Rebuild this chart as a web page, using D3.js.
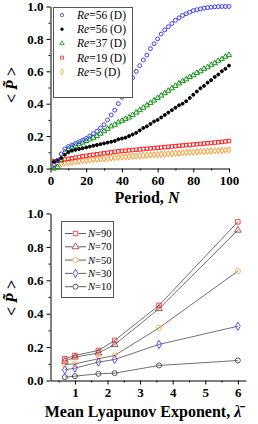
<!DOCTYPE html>
<html>
<head>
<meta charset="utf-8">
<script src="https://cdn.jsdelivr.net/npm/d3@7/dist/d3.min.js"></script>
<style>
  body { margin: 0; background: #fff; }
  svg { display: block; }
  .axis text { font-family: "Liberation Serif", serif; font-weight: bold; font-size: 13px; fill: #000; }
  .axis path, .axis line { stroke: #000; }
  .title { font-family: "Liberation Serif", serif; font-weight: bold; font-size: 16px; }
  .legend text { font-family: "Liberation Serif", serif; font-size: 11.5px; }
</style>
</head>
<body>
<svg id="chart" width="258" height="424"></svg>
<script>
// ---- top panel data: <P> vs period N ----
var periodN = [2, 4, 6, 8, 10, 12, 14, 16, 18, 20, 22, 24, 26, 28, 30, 32, 34, 36, 38, 40,
  42, 44, 46, 48, 50, 52, 54, 56, 58, 60, 62, 64, 66, 68, 70, 72, 74, 76, 78, 80,
  82, 84, 86, 88, 90, 92, 94, 96, 98, 100];

var re56D = [0.02, 0.05, 0.09, 0.12, 0.135, 0.145, 0.155, 0.165, 0.175, 0.185,
  0.2, 0.215, 0.23, 0.25, 0.27, 0.3, 0.33, 0.36, 0.4, 0.44,
  0.48, 0.52, 0.56, 0.6, 0.635, 0.67, 0.7, 0.74, 0.77, 0.8,
  0.83, 0.855, 0.875, 0.895, 0.915, 0.93, 0.945, 0.955, 0.965, 0.975,
  0.98, 0.985, 0.99, 0.993, 0.996, 0.998, 0.999, 1.0, 1.0, 1.0];
var re56O = [0.04, 0.05, 0.065, 0.085, 0.1, 0.11, 0.115, 0.12, 0.125, 0.13,
  0.135, 0.14, 0.145, 0.15, 0.155, 0.16, 0.165, 0.17, 0.18, 0.185,
  0.19, 0.2, 0.21, 0.22, 0.235, 0.25, 0.26, 0.275, 0.29, 0.3,
  0.315, 0.33, 0.345, 0.36, 0.375, 0.39, 0.4, 0.415, 0.435, 0.455,
  0.475, 0.495, 0.51, 0.53, 0.545, 0.565, 0.58, 0.6, 0.615, 0.635];
var re37D = [0.0, 0.01, 0.05, 0.1, 0.12, 0.13, 0.14, 0.15, 0.16, 0.17,
  0.18, 0.19, 0.2, 0.215, 0.23, 0.245, 0.26, 0.27, 0.285, 0.295,
  0.305, 0.315, 0.33, 0.345, 0.36, 0.375, 0.39, 0.405, 0.42, 0.435,
  0.45, 0.465, 0.48, 0.495, 0.51, 0.525, 0.54, 0.55, 0.565, 0.575,
  0.59, 0.6, 0.615, 0.625, 0.64, 0.65, 0.665, 0.675, 0.69, 0.7];
var re19D = [0.045, 0.048, 0.052, 0.056, 0.06, 0.063, 0.067, 0.071, 0.075, 0.078,
  0.082, 0.085, 0.088, 0.091, 0.094, 0.097, 0.1, 0.103, 0.106, 0.108,
  0.11, 0.112, 0.114, 0.116, 0.118, 0.12, 0.122, 0.124, 0.126, 0.128,
  0.13, 0.132, 0.134, 0.136, 0.138, 0.14, 0.142, 0.144, 0.146, 0.148,
  0.15, 0.152, 0.154, 0.156, 0.158, 0.16, 0.162, 0.164, 0.167, 0.17];
var re5D = [0.025, 0.028, 0.031, 0.034, 0.037, 0.039, 0.042, 0.045, 0.048, 0.05,
  0.052, 0.055, 0.057, 0.059, 0.061, 0.063, 0.065, 0.067, 0.069, 0.071,
  0.072, 0.074, 0.076, 0.077, 0.079, 0.08, 0.082, 0.083, 0.085, 0.086,
  0.088, 0.089, 0.091, 0.092, 0.094, 0.095, 0.097, 0.098, 0.1, 0.101,
  0.102, 0.104, 0.105, 0.106, 0.108, 0.109, 0.11, 0.112, 0.113, 0.115];

var topSeries = [
  { re: '56', tag: '(D)', values: re56D, color: '#3c3cff', shape: 'circle' },
  { re: '56', tag: '(O)', values: re56O, color: '#000000', shape: 'dot' },
  { re: '37', tag: '(D)', values: re37D, color: '#109010', shape: 'triangle' },
  { re: '19', tag: '(D)', values: re19D, color: '#ff2020', shape: 'square' },
  { re: '5', tag: '(D)', values: re5D, color: '#ff9a30', shape: 'diamond' }
];

// ---- bottom panel data: <P> vs mean Lyapunov exponent ----
var lyapunov = [0.69, 1.0, 1.72, 2.22, 3.58, 6.0];
var n90 = [0.13, 0.15, 0.18, 0.24, 0.45, 0.95];
var n70 = [0.115, 0.14, 0.165, 0.215, 0.43, 0.9];
var n50 = [0.095, 0.1, 0.13, 0.15, 0.315, 0.655];
var n30 = [0.064, 0.074, 0.11, 0.126, 0.216, 0.325];
var n10 = [0.02, 0.026, 0.04, 0.044, 0.09, 0.12];

var bottomSeries = [
  { label: '90', values: n90, color: '#e82020', shape: 'square' },
  { label: '70', values: n70, color: '#a02828', shape: 'triangle' },
  { label: '50', values: n50, color: '#ff9a30', shape: 'circle' },
  { label: '30', values: n30, color: '#2a2aff', shape: 'diamond' },
  { label: '10', values: n10, color: '#303030', shape: 'circle' }
];

var pTicks = [0, 0.2, 0.4, 0.6, 0.8, 1.0];
var pMinor = [0.1, 0.3, 0.5, 0.7, 0.9];
var nTicks = [0, 20, 40, 60, 80, 100];
var nMinor = [10, 30, 50, 70, 90];
var lTicks = [1, 2, 3, 4, 5, 6];
var lMinor = [0.5, 1.5, 2.5, 3.5, 4.5, 5.5];

var svg = d3.select('#chart');

var symbols = {
  circle: d3.symbolCircle,
  dot: d3.symbolCircle,
  triangle: d3.symbolTriangle,
  square: d3.symbolSquare,
  diamond: d3.symbolDiamond
};

function marker(g, shape, color, size, sw) {
  g.append('path')
    .attr('d', d3.symbol().type(symbols[shape]).size(size))
    .attr('fill', shape === 'dot' ? color : 'none')
    .attr('stroke', color)
    .attr('stroke-width', sw || 0.8);
}

function drawAxes(g, x, y, xt, xm, yt, ym) {
  var h = y.range()[0], x0 = x.range()[0];
  g.append('g').attr('class', 'axis')
    .attr('transform', 'translate(0,' + h + ')')
    .call(d3.axisBottom(x).tickValues(xt).tickSize(4).tickSizeOuter(0).tickFormat(d3.format('d')));
  g.append('g').attr('class', 'axis')
    .attr('transform', 'translate(0,' + h + ')')
    .call(d3.axisBottom(x).tickValues(xm).tickSize(2).tickFormat(''))
    .select('.domain').remove();
  g.append('g').attr('class', 'axis')
    .attr('transform', 'translate(' + x0 + ',0)')
    .call(d3.axisLeft(y).tickValues(yt).tickSize(4).tickSizeOuter(0).tickFormat(d3.format('.1f')));
  g.append('g').attr('class', 'axis')
    .attr('transform', 'translate(' + x0 + ',0)')
    .call(d3.axisLeft(y).tickValues(ym).tickSize(2).tickFormat(''))
    .select('.domain').remove();
}

function yTitle(cx, cy) {
  var t = svg.append('text').attr('class', 'title')
    .attr('transform', 'translate(' + cx + ',' + cy + ') rotate(-90)')
    .attr('text-anchor', 'middle')
    .attr('font-weight', 'normal');
  t.append('tspan').text('< ');
  t.append('tspan').attr('font-style', 'italic').attr('font-weight', 'bold').text('P\u0303');
  t.append('tspan').text(' >');
}

// ---------- top panel ----------
(function () {
  var x = d3.scaleLinear().domain([0, 100]).range([50.5, 229]);
  var y = d3.scaleLinear().domain([0, 1]).range([168.5, 6.5]);
  var g = svg.append('g');

  drawAxes(g, x, y, nTicks, nMinor, pTicks, pMinor);

  topSeries.slice().reverse().forEach(function (s) {
    g.append('g').selectAll('g')
      .data(s.values)
      .enter()
      .append('g')
      .attr('transform', (d, i) => 'translate(' + x(periodN[i]) + ',' + y(d) + ')')
      .each(function () {
        marker(d3.select(this), s.shape, s.color, s.shape === 'dot' ? 7 : 12, 1);
      });
  });

  // legend
  var lg = g.append('g').attr('class', 'legend');
  lg.append('rect').attr('x', 53.5).attr('y', 7.5).attr('width', 79).attr('height', 90)
    .attr('fill', '#fff').attr('stroke', '#555').attr('stroke-width', 1);
  topSeries.forEach(function (s, i) {
    var row = lg.append('g').attr('transform', 'translate(0,' + (15 + i * 14.2) + ')');
    marker(row.append('g').attr('transform', 'translate(62,0)'), s.shape, s.color, s.shape === 'dot' ? 5 : 9);
    var t = row.append('text').attr('x', 77).attr('y', 4);
    t.append('tspan').attr('font-style', 'italic').text('Re');
    t.append('tspan').text('=' + s.re + ' ' + s.tag);
  });

  var xt = svg.append('text').attr('class', 'title')
    .attr('x', 147).attr('y', 203).attr('text-anchor', 'middle');
  xt.append('tspan').text('Period, ');
  xt.append('tspan').attr('font-style', 'italic').text('N');

  yTitle(17, 85);
})();

// ---------- bottom panel ----------
(function () {
  var x = d3.scaleLinear().domain([0.25, 6.25]).range([50.5, 246]);
  var y = d3.scaleLinear().domain([0, 1]).range([380.5, 213.5]);
  var g = svg.append('g');

  drawAxes(g, x, y, lTicks, lMinor, pTicks, pMinor);

  var line = d3.line()
    .x((d, i) => x(lyapunov[i]))
    .y((d) => y(d));

  bottomSeries.forEach(function (s) {
    g.append('path').datum(s.values)
      .attr('d', line)
      .attr('fill', 'none')
      .attr('stroke', '#333')
      .attr('stroke-width', 0.7);
  });
  bottomSeries.slice().reverse().forEach(function (s) {
    g.append('g').selectAll('g')
      .data(s.values)
      .enter()
      .append('g')
      .attr('transform', (d, i) => 'translate(' + x(lyapunov[i]) + ',' + y(d) + ')')
      .each(function () {
        marker(d3.select(this), s.shape, s.color, 20);
      });
  });

  // legend
  var lg = g.append('g').attr('class', 'legend');
  lg.append('rect').attr('x', 61.5).attr('y', 221.5).attr('width', 52).attr('height', 76)
    .attr('fill', '#fff').attr('stroke', '#555').attr('stroke-width', 1);
  bottomSeries.forEach(function (s, i) {
    var row = lg.append('g').attr('transform', 'translate(0,' + (233.5 + i * 13.3) + ')');
    row.append('line').attr('x1', 65).attr('x2', 86).attr('stroke', '#333').attr('stroke-width', 0.8);
    var m = row.append('g').attr('transform', 'translate(75.5,0)');
    m.append('rect').attr('x', -3).attr('y', -3).attr('width', 6).attr('height', 6).attr('fill', '#fff');
    marker(m, s.shape, s.color, 20);
    var t = row.append('text').attr('x', 88).attr('y', 3.5).style('font-size', '10.5px');
    t.append('tspan').attr('font-style', 'italic').text('N');
    t.append('tspan').text('=' + s.label);
  });

  var xt = svg.append('text').attr('class', 'title')
    .attr('x', 143).attr('y', 417).attr('text-anchor', 'middle');
  xt.append('tspan').text('Mean Lyapunov Exponent, ');
  xt.append('tspan').attr('font-style', 'italic').text('\u03bb\u0304');

  yTitle(17, 298);
})();
</script>
</body>
</html>
